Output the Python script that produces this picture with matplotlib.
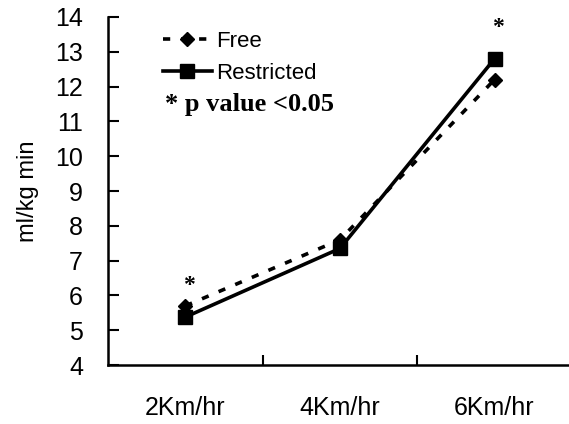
import matplotlib
matplotlib.use("Agg")
import matplotlib.pyplot as plt

# data
speeds = ["2Km/hr", "4Km/hr", "6Km/hr"]
free = [5.7, 7.6, 12.2]
restricted = [5.38, 7.35, 12.8]
sig_pos = [0, 2]          # categories with p < 0.05
sig_y = [6.3, 13.7]

plt.rcParams['font.family'] = ['Liberation Sans', 'DejaVu Sans']

fig = plt.figure(figsize=(5.69, 4.24), dpi=100)
ax = fig.add_axes([0.19, 0.139, 0.815, 0.821])

x = list(range(len(speeds)))
ax.plot(x, free, linestyle=(0, (2, 3)), color='black', lw=2.6,
        marker='D', markersize=7, label='Free')
ax.plot(x, restricted, linestyle='-', color='black', lw=2.6,
        marker='s', markersize=10, label='Restricted')

for i, yy in zip(sig_pos, sig_y):
    ax.text(i + 0.02, yy, '*', ha='center', va='center', fontsize=17,
            fontweight='bold', family='Liberation Serif')

ax.set_xlim(-0.5, 2.5)
ax.set_ylim(4, 14)
ax.set_yticks(range(4, 15))
ax.set_xticks(x)
ax.set_xticklabels(speeds, fontsize=18)
ax.set_xticks([0.5, 1.5], minor=True)
ax.tick_params(axis='x', which='major', length=0, pad=22)
ax.tick_params(axis='x', which='minor', direction='in', length=7, width=1.5)
ax.tick_params(axis='y', direction='in', length=8, width=1.5, labelsize=18, pad=18)
ax.set_ylabel('ml/kg min', fontsize=17, labelpad=12)

for s in ['top', 'right']:
    ax.spines[s].set_visible(False)
for s in ['left', 'bottom']:
    ax.spines[s].set_linewidth(1.8)

leg = ax.legend(loc='upper left', bbox_to_anchor=(163 / 569, 0.927),
                bbox_transform=fig.transFigure, frameon=False,
                fontsize=16, handlelength=2.2, handletextpad=0.2,
                labelspacing=0.5, borderpad=0, borderaxespad=0)
fig.text(165 / 569, 1 - 104 / 424, '* p value <0.05', fontsize=19,
         fontweight='bold', family='Liberation Serif', va='center')

fig.savefig('out.png', dpi=100)
